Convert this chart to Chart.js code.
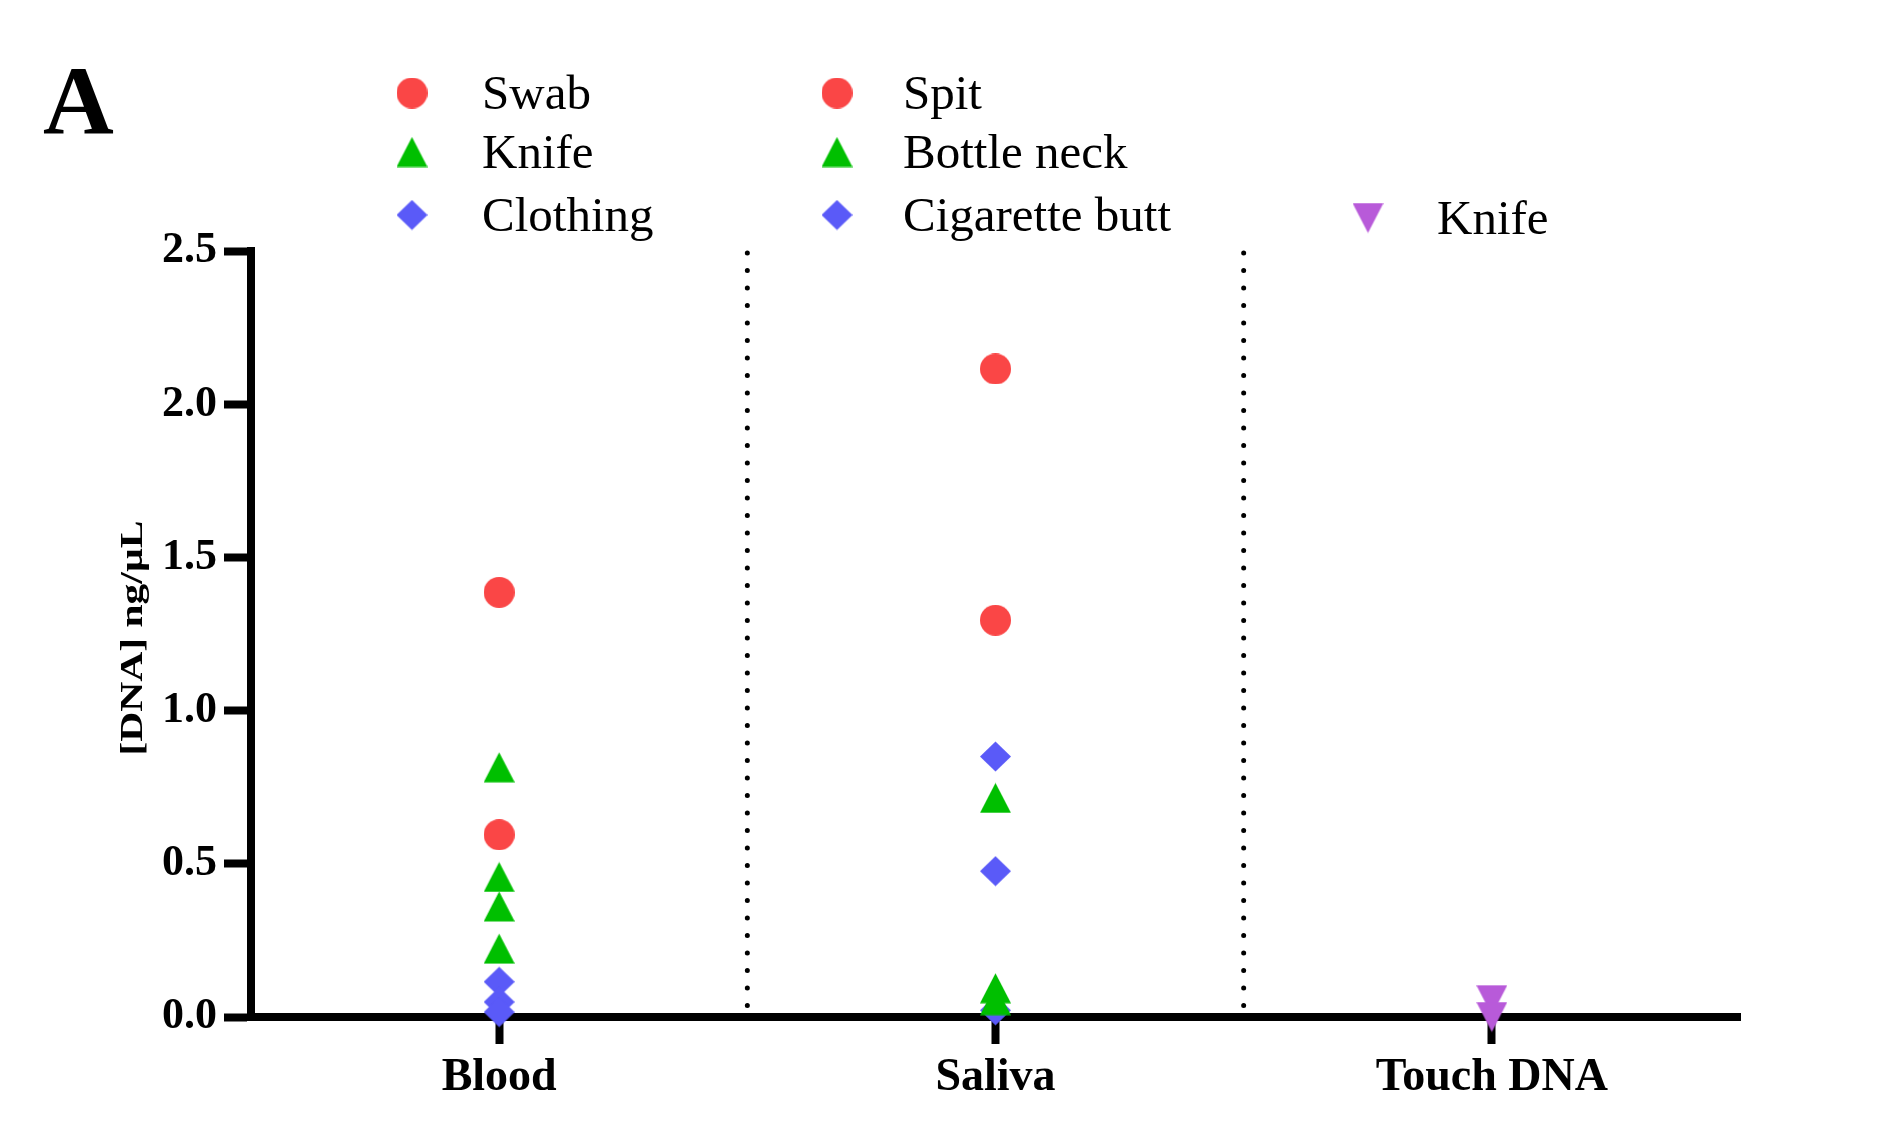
<!DOCTYPE html>
<html>
<head>
<meta charset="utf-8">
<script src="https://cdn.jsdelivr.net/npm/chart.js@4.4.1/dist/chart.umd.min.js"></script>
<style>
html, body { margin: 0; padding: 0; background: #fff; }
</style>
</head>
<body>
<canvas id="dnaChart" width="1877" height="1142"></canvas>
<script>
// values (ng/uL)
var categories = ['Blood', 'Saliva', 'Touch DNA'];
var yTicks = [0, 0.5, 1.0, 1.5, 2.0, 2.5];

var bloodSwab = [1.386, 0.595];
var bloodKnife = [0.815, 0.457, 0.361, 0.223];
var bloodClothing = [0.115, 0.049, 0.016];
var salivaSpit = [2.115, 1.295];
var salivaBottleNeck = [0.715, 0.094, 0.055];
var salivaCigaretteButt = [0.85, 0.476, 0.022];
var touchKnife = [0.055, 0.0];

var serif = "'Liberation Serif', 'Times New Roman', serif";
var RED = '#FA4646', GREEN = '#00BF00', BLUE = '#5A5AF8', PURPLE = '#B85AD9';

// marker images, so the shapes look like the Prism ones
function marker(shape, color) {
  var c = document.createElement('canvas');
  c.width = 31; c.height = 31;
  var g = c.getContext('2d');
  g.fillStyle = color;
  g.beginPath();
  if (shape == 'circle') {
    g.arc(15.5, 15.5, 15.5, 0, Math.PI * 2);
  } else if (shape == 'up') {
    g.moveTo(15.5, 0.5); g.lineTo(31, 30.5); g.lineTo(0, 30.5);
  } else if (shape == 'down') {
    g.moveTo(0, 0.5); g.lineTo(31, 0.5); g.lineTo(15.5, 30.5);
  } else {
    g.moveTo(15.5, 0.5); g.lineTo(31, 15.5); g.lineTo(15.5, 30.5); g.lineTo(0, 15.5);
  }
  g.closePath();
  g.fill();
  return c;
}

function pts(cat, arr) {
  return arr.map(function (v) { return { x: cat, y: v }; });
}

function ds(label, cat, arr, shape, color, col, row) {
  return {
    label: label,
    data: pts(cat, arr),
    pointStyle: marker(shape, color),
    pointRadius: 16,
    pointHoverRadius: 16,
    backgroundColor: color,
    borderColor: color,
    clip: false,
    legendCol: col,
    legendRow: row
  };
}

var datasets = [
  ds('Swab', 'Blood', bloodSwab, 'circle', RED, 0, 0),
  ds('Knife', 'Blood', bloodKnife, 'up', GREEN, 0, 1),
  ds('Clothing', 'Blood', bloodClothing, 'diamond', BLUE, 0, 2),
  ds('Spit', 'Saliva', salivaSpit, 'circle', RED, 1, 0),
  ds('Bottle neck', 'Saliva', salivaBottleNeck, 'up', GREEN, 1, 1),
  ds('Cigarette butt', 'Saliva', salivaCigaretteButt, 'diamond', BLUE, 1, 2),
  ds('Knife', 'Touch DNA', touchKnife, 'down', PURPLE, 2, 2)
];

var legendCols = [{ m: 412, t: 482 }, { m: 837, t: 903 }, { m: 1368, t: 1437 }];
var legendRows = [93, 152, 215];

var extras = {
  id: 'extras',
  beforeDatasetsDraw: function (chart) {
    var ctx = chart.ctx, x = chart.scales.x, a = chart.chartArea;
    ctx.save();
    ctx.strokeStyle = '#000';
    ctx.lineWidth = 5;
    ctx.lineCap = 'round';
    ctx.setLineDash([0, 17.5]);
    for (var i = 0; i < categories.length - 1; i++) {
      var px = (x.getPixelForValue(i) + x.getPixelForValue(i + 1)) / 2;
      ctx.beginPath();
      ctx.moveTo(px, a.top + 2);
      ctx.lineTo(px, a.bottom - 4);
      ctx.stroke();
    }
    ctx.restore();
  },
  afterDraw: function (chart) {
    var ctx = chart.ctx;
    ctx.save();
    ctx.fillStyle = '#000';
    // panel letter
    ctx.font = 'bold 98px ' + serif;
    ctx.textAlign = 'left';
    ctx.textBaseline = 'alphabetic';
    ctx.fillText('A', 43, 133);

    // legend, one column per sample type
    ctx.font = '49px ' + serif;
    chart.data.datasets.forEach(function (d) {
      var col = legendCols[d.legendCol], y = legendRows[d.legendRow];
      if (d.legendCol == 2) y += 3;
      ctx.drawImage(d.pointStyle, col.m - 15.5, y - 15.5);
      ctx.fillText(d.label, col.t, y + 16);
    });

    // y axis title (stretched like the original)
    var title = '[DNA] ng/\u00B5L';
    ctx.font = 'bold 31px ' + serif;
    var w = ctx.measureText(title).width;
    ctx.translate(142, 638);
    ctx.rotate(-Math.PI / 2);
    ctx.scale(235 / w, 1);
    ctx.textAlign = 'center';
    ctx.fillText(title, 0, 0);
    ctx.restore();
  }
};

new Chart(document.getElementById('dnaChart'), {
  type: 'scatter',
  data: { datasets: datasets },
  options: {
    responsive: false,
    animation: false,
    events: [],
    layout: { padding: { top: 251, right: 137, left: 0, bottom: 0 } },
    plugins: { legend: { display: false }, tooltip: { enabled: false } },
    scales: {
      x: {
        type: 'category',
        labels: categories,
        offset: true,
        afterFit: function (s) { s.height = 125; },
        ticks: {
          color: '#000',
          font: { family: serif, size: 46, weight: 'bold' },
          padding: 7,
          maxRotation: 0,
          autoSkip: false
        },
        grid: { drawOnChartArea: false, offset: false, tickLength: 27, tickWidth: 8, tickColor: '#000' },
        border: { width: 8, color: '#000' }
      },
      y: {
        min: 0,
        max: 2.5,
        afterFit: function (s) { s.width = 251; },
        afterBuildTicks: function (s) {
          s.ticks = yTicks.map(function (v) { return { value: v }; });
        },
        ticks: {
          color: '#000',
          font: { family: serif, size: 44, weight: 'bold' },
          padding: 7,
          callback: function (v) { return Number(v).toFixed(1); }
        },
        grid: { drawOnChartArea: false, tickLength: 27, tickWidth: 8, tickColor: '#000' },
        border: { width: 8, color: '#000' }
      }
    }
  },
  plugins: [extras]
});
</script>
</body>
</html>
